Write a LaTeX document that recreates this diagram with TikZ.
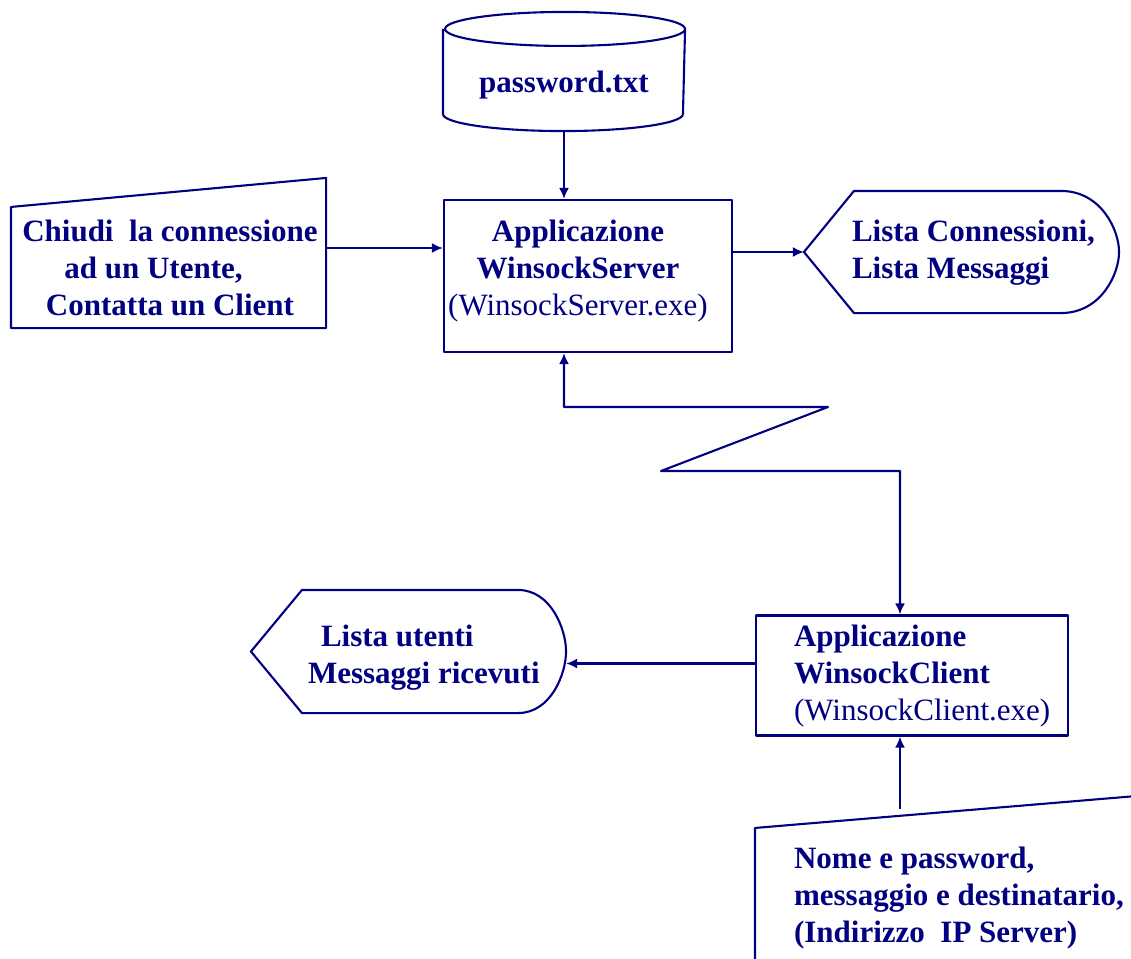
\documentclass[tikz,border=0pt]{standalone}
\usepackage{fontspec}
\setmainfont{Liberation Serif}
\usetikzlibrary{arrows.meta,positioning,calc}
\definecolor{navy}{RGB}{0,0,128}

\begin{document}
\begin{tikzpicture}[
  x=1pt,y=1pt,
  color=navy, line width=2.1pt, line join=round,
  every node/.style={font=\fontsize{31}{37}\selectfont\bfseries},
  frame/.style={rectangle,inner sep=0pt},
  box/.style={frame,draw},
  txt/.style={inner sep=0pt,align=left},
  arr/.style={-{Latex[length=11pt,width=10pt]}},
  biarr/.style={{Latex[length=11pt,width=10pt]}-{Latex[length=11pt,width=10pt]}}
]
\useasboundingbox (0,0) rectangle (1131,-958);
\clip (0,0) rectangle (1131,-958);
% Shapes
\node[frame,minimum width=240pt,minimum height=117pt] (db) at (564,-71.5) {};
\draw ([yshift=-17pt]db.north west) -- ([yshift=17pt]db.south west)
  arc[start angle=180,end angle=360,x radius=120pt,y radius=17pt]
  -- ([yshift=-17pt]db.north east)
  arc[start angle=0,end angle=360,x radius=120pt,y radius=17pt];
\node[box,minimum width=288pt,minimum height=152pt] (srv) at (588,-276) {};
\node[box,minimum width=312pt,minimum height=120pt] (cl) at (912,-675.5) {};
\node[frame,minimum width=313pt,minimum height=148pt] (inL) at (168.5,-253) {};
\draw (inL.south west) -- ([yshift=-29pt]inL.north west) -- (inL.north east)
  -- (inL.south east) -- cycle;
\node[frame,minimum width=380pt,minimum height=193pt] (inR) at (946,-893.5) {};
\draw (inR.south west) -- ([yshift=-32pt]inR.north west) -- (inR.north east)
  -- (inR.south east) -- cycle;
\node[frame,minimum width=313pt,minimum height=120pt] (outR) at (961.5,-252) {};
\draw (outR.west) -- ([xshift=50pt]outR.north west) -- ([xshift=-58pt]outR.north east)
  .. controls ([xshift=-18pt]outR.north east) and ([yshift=22pt]outR.east) .. (outR.east)
  .. controls ([yshift=-22pt]outR.east) and ([xshift=-18pt]outR.south east) .. ([xshift=-58pt]outR.south east)
  -- ([xshift=50pt]outR.south west) -- cycle;
\node[frame,minimum width=313pt,minimum height=121pt] (outL) at (408.5,-651.5) {};
\draw (outL.west) -- ([xshift=51pt]outL.north west) -- ([xshift=-48pt]outL.north east)
  .. controls ([xshift=-15pt]outL.north east) and ([yshift=22pt]outL.east) .. (outL.east)
  .. controls ([yshift=-22pt]outL.east) and ([xshift=-15pt]outL.south east) .. ([xshift=-48pt]outL.south east)
  -- ([xshift=51pt]outL.south west) -- cycle;
% Texts
\node[txt,anchor=base] (dbtxt) at (564,-92) {password.txt};
\node[txt,align=center,anchor=north] (srvtxt) at (578,-219)
  {Applicazione\\WinsockServer\\{\mdseries (WinsockServer.exe)}};
\node[txt,anchor=north west] (cltxt) at (793,-624)
  {Applicazione\\WinsockClient\\{\mdseries (WinsockClient.exe)}};
\node[txt,align=center,anchor=north] (inLtxt) at (170,-219)
  {Chiudi~~la connessione\\ad un Utente,\hbox to 33pt{}\\Contatta un Client};
\node[txt,anchor=north west] (inRtxt) at (793,-846)
  {Nome e password,\\messaggio e destinatario,\\(Indirizzo~~IP Server)};
\node[txt,anchor=north west] (outRtxt) at (851,-219) {Lista Connessioni,\\Lista Messaggi};
\node[txt,anchor=north west] (outLtxt) at (307,-624) {\hspace*{13pt}Lista utenti\\Messaggi ricevuti};
% Arrows
\coordinate (zA) at (828,-407);
\coordinate (zB) at (661,-471);
\coordinate (zC) at (900,-471);
\coordinate (inRtop) at (900,-809);
\draw[arr] (db.south) -- (srv.north -| db.south);
\draw[arr] ([yshift=5pt]inL.east) -- ([yshift=5pt]inL.east -| srv.west);
\draw[arr] (srv.east |- outR.west) -- (outR.west);
\draw[biarr] (srv.south -| db.south) |- (zA) -- (zB) -- (zC) -- (zC |- cl.north);
\draw[arr] ([yshift=-12pt]outL.east -| cl.west) -- ([yshift=-12pt]outL.east);
\draw[arr] (inRtop) -- (inRtop |- cl.south);
\end{tikzpicture}
\end{document}
